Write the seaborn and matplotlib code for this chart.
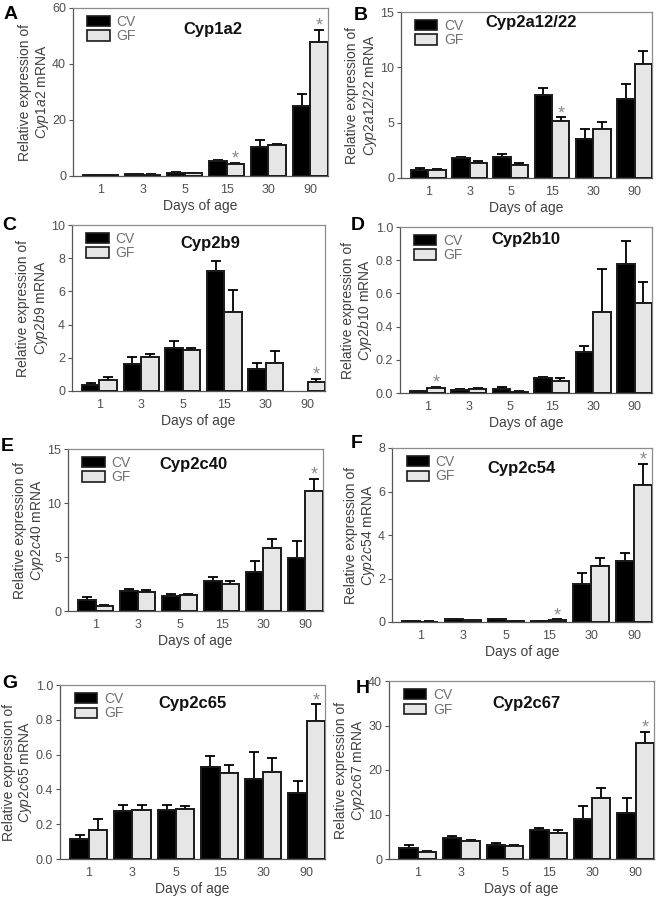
import numpy as np
import pandas as pd
import matplotlib
matplotlib.use("Agg")
import matplotlib.pyplot as plt
import seaborn as sns
from matplotlib.patches import Patch
from matplotlib.container import BarContainer

# ---------------- data ----------------
days = ["1", "3", "5", "15", "30", "90"]
groups = ["CV", "GF"]

genes = ["Cyp1a2", "Cyp2a12/22", "Cyp2b9", "Cyp2b10",
         "Cyp2c40", "Cyp2c54", "Cyp2c65", "Cyp2c67"]
letters = ["A", "B", "C", "D", "E", "F", "G", "H"]

cyp1a2_cv = [0.3, 0.6, 1.2, 5.2, 10.4, 25.0]
cyp1a2_cv_err = [0.1, 0.15, 0.3, 0.4, 2.6, 4.2]
cyp1a2_gf = [0.35, 0.5, 0.9, 4.3, 10.9, 48.0]
cyp1a2_gf_err = [0.05, 0.1, 0.2, 0.4, 0.7, 4.2]
cyp1a2_star = [0, 0, 0, 1, 0, 1]

cyp2a12_cv = [0.69, 1.8, 1.9, 7.53, 3.52, 7.17]
cyp2a12_cv_err = [0.24, 0.1, 0.3, 0.63, 0.88, 1.33]
cyp2a12_gf = [0.75, 1.35, 1.2, 5.15, 4.46, 10.33]
cyp2a12_gf_err = [0.09, 0.15, 0.2, 0.35, 0.57, 1.12]
cyp2a12_star = [0, 0, 0, 1, 0, 0]

cyp2b9_cv = [0.36, 1.63, 2.59, 7.25, 1.3, np.nan]
cyp2b9_cv_err = [0.14, 0.4, 0.42, 0.6, 0.4, 0.0]
cyp2b9_gf = [0.66, 2.07, 2.47, 4.74, 1.7, 0.56]
cyp2b9_gf_err = [0.16, 0.13, 0.14, 1.32, 0.73, 0.16]
cyp2b9_star = [0, 0, 0, 0, 0, 1]

cyp2b10_cv = [0.010, 0.016, 0.024, 0.088, 0.245, 0.78]
cyp2b10_cv_err = [0.002, 0.006, 0.010, 0.010, 0.038, 0.134]
cyp2b10_gf = [0.032, 0.026, 0.008, 0.072, 0.485, 0.54]
cyp2b10_gf_err = [0.006, 0.004, 0.002, 0.018, 0.26, 0.13]
cyp2b10_star = [1, 0, 0, 0, 0, 0]

cyp2c40_cv = [1.04, 1.85, 1.43, 2.8, 3.57, 4.94]
cyp2c40_cv_err = [0.3, 0.15, 0.12, 0.33, 1.1, 1.52]
cyp2c40_gf = [0.5, 1.76, 1.49, 2.5, 5.86, 11.13]
cyp2c40_gf_err = [0.07, 0.17, 0.09, 0.3, 0.81, 1.1]
cyp2c40_star = [0, 0, 0, 0, 0, 1]

cyp2c54_cv = [0.03, 0.13, 0.12, 0.04, 1.74, 2.8]
cyp2c54_cv_err = [0.01, 0.02, 0.03, 0.01, 0.52, 0.38]
cyp2c54_gf = [0.02, 0.1, 0.04, 0.1, 2.58, 6.3]
cyp2c54_gf_err = [0.01, 0.01, 0.01, 0.02, 0.36, 0.96]
cyp2c54_star = [0, 0, 0, 1, 0, 1]

cyp2c65_cv = [0.115, 0.273, 0.283, 0.526, 0.459, 0.38]
cyp2c65_cv_err = [0.023, 0.037, 0.025, 0.064, 0.157, 0.066]
cyp2c65_gf = [0.168, 0.283, 0.287, 0.497, 0.499, 0.795]
cyp2c65_gf_err = [0.062, 0.027, 0.017, 0.044, 0.08, 0.094]
cyp2c65_star = [0, 0, 0, 0, 0, 1]

cyp2c67_cv = [2.46, 4.7, 3.13, 6.57, 8.96, 10.3]
cyp2c67_cv_err = [0.74, 0.37, 0.45, 0.43, 2.94, 3.36]
cyp2c67_gf = [1.5, 3.96, 2.84, 5.82, 13.8, 26.0]
cyp2c67_gf_err = [0.2, 0.29, 0.36, 0.75, 2.2, 2.6]
cyp2c67_star = [0, 0, 0, 0, 0, 1]

cv_vals = [cyp1a2_cv, cyp2a12_cv, cyp2b9_cv, cyp2b10_cv,
           cyp2c40_cv, cyp2c54_cv, cyp2c65_cv, cyp2c67_cv]
cv_errs = [cyp1a2_cv_err, cyp2a12_cv_err, cyp2b9_cv_err, cyp2b10_cv_err,
           cyp2c40_cv_err, cyp2c54_cv_err, cyp2c65_cv_err, cyp2c67_cv_err]
gf_vals = [cyp1a2_gf, cyp2a12_gf, cyp2b9_gf, cyp2b10_gf,
           cyp2c40_gf, cyp2c54_gf, cyp2c65_gf, cyp2c67_gf]
gf_errs = [cyp1a2_gf_err, cyp2a12_gf_err, cyp2b9_gf_err, cyp2b10_gf_err,
           cyp2c40_gf_err, cyp2c54_gf_err, cyp2c65_gf_err, cyp2c67_gf_err]
stars = [cyp1a2_star, cyp2a12_star, cyp2b9_star, cyp2b10_star,
         cyp2c40_star, cyp2c54_star, cyp2c65_star, cyp2c67_star]

yticks = [[0, 20, 40, 60], [0, 5, 10, 15], [0, 2, 4, 6, 8, 10],
          [0.0, 0.2, 0.4, 0.6, 0.8, 1.0], [0, 5, 10, 15], [0, 2, 4, 6, 8],
          [0.0, 0.2, 0.4, 0.6, 0.8, 1.0], [0, 10, 20, 30, 40]]
ytick_labels = [["0", "20", "40", "60"], ["0", "5", "10", "15"],
                ["0", "2", "4", "6", "8", "10"],
                ["0.0", "0.2", "0.4", "0.6", "0.8", "1.0"],
                ["0", "5", "10", "15"], ["0", "2", "4", "6", "8"],
                ["0.0", "0.2", "0.4", "0.6", "0.8", "1.0"],
                ["0", "10", "20", "30", "40"]]

# ---------------- layout (pixels: left, top, right, bottom) ----------------
W, H = 659, 900
boxes = [(73, 8, 328, 176), (401, 12, 652, 178),
         (72, 225, 325, 391), (400, 227, 652, 393),
         (68, 449, 323, 611), (392, 448, 652, 622),
         (60, 685, 325, 859), (389, 681, 654, 859)]
title_pos = [(0.55, 0.87), (0.52, 0.935), (0.545, 0.89), (0.50, 0.925),
             (0.49, 0.905), (0.50, 0.885), (0.50, 0.895), (0.52, 0.875)]
# (x, y, horizontal alignment)
letter_pos = [(4, 6, "left"), (354, 7, "left"), (2, 217, "left"),
              (351, 217, "left"), (1, 438, "left"), (351, 435, "left"),
              (2, 675, "left"), (370, 680, "right")]

sns.set_theme(style="white")
plt.rcParams["font.family"] = ["Liberation Sans", "DejaVu Sans"]
plt.rcParams["mathtext.fontset"] = "custom"
plt.rcParams["mathtext.rm"] = "Liberation Sans"
plt.rcParams["mathtext.it"] = "Liberation Sans:italic"

CV_COLOR = "#000000"
GF_COLOR = "#e6e6e6"
EDGE = "#1a1a1a"
TXT = "#404040"

fig = plt.figure(figsize=(W / 100, H / 100), dpi=100)
fig.patch.set_facecolor("white")

for k in range(8):
    l, t, r, b = boxes[k]
    ax = fig.add_axes([l / W, 1 - b / H, (r - l) / W, (b - t) / H])
    df = pd.DataFrame({
        "day": days * 2,
        "group": ["CV"] * 6 + ["GF"] * 6,
        "value": list(cv_vals[k]) + list(gf_vals[k]),
    })
    sns.barplot(data=df, x="day", y="value", hue="group", order=days,
                hue_order=groups, palette={"CV": CV_COLOR, "GF": GF_COLOR},
                width=0.84, saturation=1, errorbar=None, legend=False,
                edgecolor=EDGE, linewidth=1.4, ax=ax, zorder=3)

    # error bars (upper only) and stars, positioned from drawn bars
    bar_conts = [c for c in ax.containers if isinstance(c, BarContainer)]
    for cont in bar_conts:
        for bar in cont.patches:
            h = bar.get_height()
            if not np.isfinite(h):
                continue
            cx = bar.get_x() + bar.get_width() / 2
            i = int(round(cx))
            j = 0 if cx < i else 1
            err = (cv_errs[k] if j == 0 else gf_errs[k])[i]
            ax.errorbar([cx], [h], yerr=[[0], [err]], fmt="none",
                        ecolor="black", elinewidth=1.3, capsize=3.8,
                        capthick=1.3, zorder=2)
            if j == 1 and stars[k][i]:
                ax.annotate("*", xy=(cx, h + err), xytext=(0, -3.5),
                            textcoords="offset points", ha="center",
                            va="bottom", color="#8a8a8a", fontsize=13)

    ax.set_xlim(-0.66, 5.42)
    ax.set_ylim(yticks[k][0], yticks[k][-1])
    ax.set_yticks(yticks[k])
    ax.set_yticklabels(ytick_labels[k])
    ax.tick_params(axis="y", left=True, length=3, width=0.8,
                   color="#555555", labelsize=9, labelcolor="#505050", pad=2)
    ax.tick_params(axis="x", bottom=False, length=0, labelsize=9,
                   labelcolor="#505050", pad=6)
    ax.set_xlabel("Days of age", fontsize=10, color=TXT, labelpad=2)
    ax.set_ylabel("Relative expression of\n$\\mathit{" + genes[k] + "}$ mRNA",
                  fontsize=10, color=TXT, labelpad=1, linespacing=1.12)
    for side in ["left", "bottom"]:
        ax.spines[side].set_color("#555555")
        ax.spines[side].set_linewidth(0.9)
    for side in ["top", "right"]:
        ax.spines[side].set_color("#8c8c8c")
        ax.spines[side].set_linewidth(0.9)
        ax.spines[side].set_visible(True)

    ax.text(title_pos[k][0], title_pos[k][1], genes[k], transform=ax.transAxes,
            ha="center", va="center", fontsize=12, fontweight="bold",
            color="#111111")

    handles = [Patch(facecolor=CV_COLOR, edgecolor=EDGE, linewidth=1.2),
               Patch(facecolor=GF_COLOR, edgecolor=EDGE, linewidth=1.2)]
    leg = ax.legend(handles, groups, loc="upper left",
                    bbox_to_anchor=(0.04, 0.985), frameon=False, fontsize=10,
                    handlelength=1.6, handleheight=0.75, labelspacing=0.05,
                    handletextpad=0.5, borderaxespad=0.2, borderpad=0.1)
    for txt in leg.get_texts():
        txt.set_color("#707070")

    lx, ly, lha = letter_pos[k]
    fig.text(lx / W, 1 - ly / H, letters[k], ha=lha, va="top",
             fontsize=14, fontweight="bold", color="black")

fig.savefig("out.png", dpi=100, facecolor="white")
